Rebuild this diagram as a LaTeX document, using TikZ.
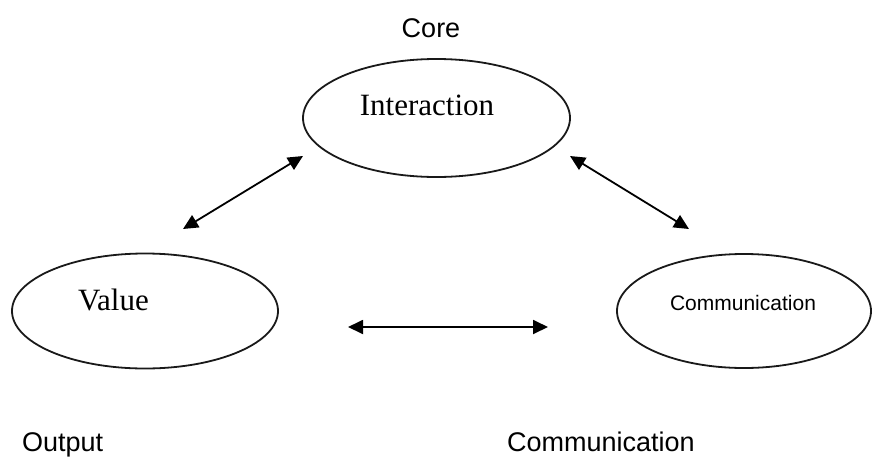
\documentclass[tikz,border=0pt]{standalone}
\usepackage{fontspec}
\setmainfont{Liberation Serif}
\setsansfont{Liberation Sans}
\usetikzlibrary{shapes.geometric,arrows.meta}
\begin{document}
\begin{tikzpicture}[x=1pt,y=-1pt,
  oval/.style={draw=black!90,ellipse,line width=1.8pt,inner sep=0pt},
  serifword/.style={anchor=base,inner sep=0pt,font=\fontsize{31}{31}\selectfont},
  sanssmall/.style={anchor=base,inner sep=0pt,font=\sffamily\fontsize{21}{21}\selectfont},
  sanslabel/.style={anchor=base west,inner sep=0pt,font=\sffamily\fontsize{27}{27}\selectfont},
  link/.style={line width=1.8pt,{Triangle[length=15pt,width=14pt]}-{Triangle[length=15pt,width=14pt]}}]
\useasboundingbox (0,0) rectangle (875,458);
% the three ovals
\node[oval,minimum width=267pt,minimum height=118pt] (inter) at (436.5,118) {};
\node[oval,minimum width=266pt,minimum height=115pt] (value) at (145,311) {};
\node[oval,minimum width=254pt,minimum height=114pt] (comm) at (744,311) {};
% words inside the ovals
\node[serifword] (intertext) at (427,115) {Interaction};
\node[serifword] (valuetext) at (113.5,310) {Value};
\node[sanssmall] (commtext) at (743,310) {Communication};
% captions
\node[sanslabel,anchor=base] (core) at (431,37) {Core};
\node[sanslabel] (output) at (22,451) {Output};
\node[sanslabel] (commlabel) at (507,451) {Communication};
% ends of the double arrows
\coordinate (a1) at (183,229);
\coordinate (a2) at (303,156);
\coordinate (b1) at (570,156);
\coordinate (b2) at (689,229);
\coordinate (c1) at (348,327);
\coordinate (c2) at (548,327);
\draw[link] (a1) -- (a2);
\draw[link] (b1) -- (b2);
\draw[link] (c1) -- (c2);
\end{tikzpicture}
\end{document}
